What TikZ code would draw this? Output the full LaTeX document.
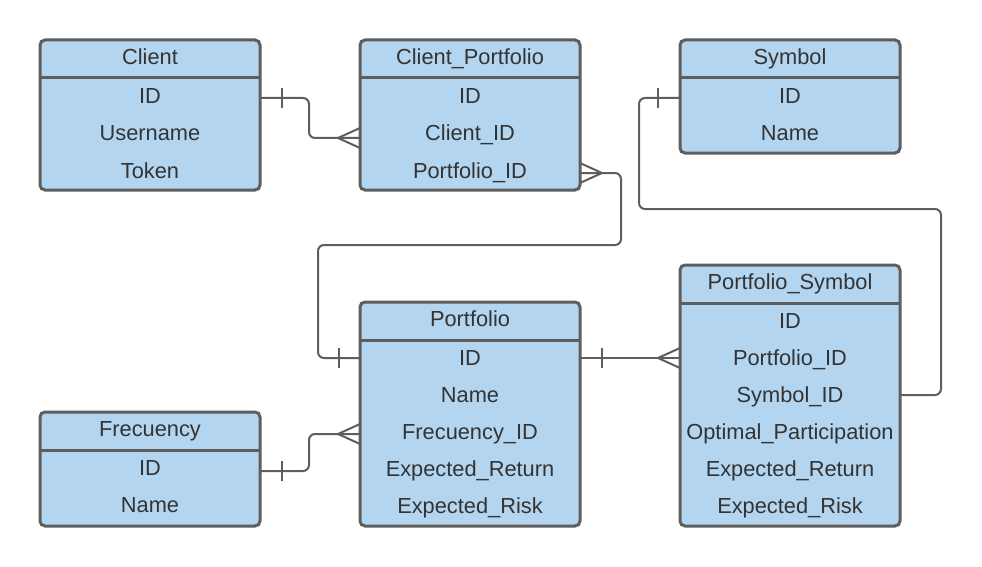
\documentclass[tikz,border=0pt]{standalone}
\usepackage{fontspec}
\setmainfont{Liberation Sans}
\usetikzlibrary{calc}
\definecolor{boxblue}{HTML}{B3D5F0}
\definecolor{edgegray}{HTML}{5E5E5E}
\definecolor{txtgray}{HTML}{333333}
\begin{document}
\begin{tikzpicture}[x=1pt,y=-1pt,
  tbl/.style={draw=edgegray, line width=3pt, fill=boxblue, rounded corners=5pt,
    minimum width=220pt, inner sep=0pt, outer sep=0pt, anchor=north west},
  sepline/.style={draw=edgegray, line width=3pt},
  cell/.style={text=txtgray, font=\fontsize{21.8}{26}\selectfont, inner sep=0pt,
    text height=15pt, text depth=0pt, anchor=center},
  link/.style={draw=edgegray, line width=2pt, rounded corners=6pt},
  crow/.style={draw=edgegray, line width=2pt}]
\fill[white] (0,0) rectangle (982,567);
\useasboundingbox (0,0) rectangle (982,567);

% Client
\node[tbl, minimum height=150pt] (client) at (40,40) {};
\draw[sepline] ([yshift=-38pt]client.north west) -- ([yshift=-38pt]client.north east);
\node[cell] (client-t) at (150,57) {Client};
\node[cell] (client-id) at (150,96.5) {ID};
\node[cell] (client-un) at (150,133.5) {Username};
\node[cell] (client-tk) at (150,170.5) {Token};

% Client_Portfolio
\node[tbl, minimum height=150pt] (cp) at (360,40) {};
\draw[sepline] ([yshift=-38pt]cp.north west) -- ([yshift=-38pt]cp.north east);
\node[cell] (cp-t) at (470,57) {Client\_Portfolio};
\node[cell] (cp-id) at (470,96.5) {ID};
\node[cell] (cp-cid) at (470,133.5) {Client\_ID};
\node[cell] (cp-pid) at (470,170.5) {Portfolio\_ID};

% Symbol
\node[tbl, minimum height=113pt] (sym) at (680,40) {};
\draw[sepline] ([yshift=-38pt]sym.north west) -- ([yshift=-38pt]sym.north east);
\node[cell] (sym-t) at (790,57) {Symbol};
\node[cell] (sym-id) at (790,96.5) {ID};
\node[cell] (sym-nm) at (790,133.5) {Name};

% Portfolio
\node[tbl, minimum height=224pt] (pf) at (360,302) {};
\draw[sepline] ([yshift=-38pt]pf.north west) -- ([yshift=-38pt]pf.north east);
\node[cell] (pf-t) at (470,319) {Portfolio};
\node[cell] (pf-id) at (470,358) {ID};
\node[cell] (pf-nm) at (470,395) {Name};
\node[cell] (pf-fid) at (470,432) {Frecuency\_ID};
\node[cell] (pf-er) at (470,469) {Expected\_Return};
\node[cell] (pf-rk) at (470,506) {Expected\_Risk};

% Portfolio_Symbol
\node[tbl, minimum height=261pt] (ps) at (680,265) {};
\draw[sepline] ([yshift=-38pt]ps.north west) -- ([yshift=-38pt]ps.north east);
\node[cell] (ps-t) at (790,282) {Portfolio\_Symbol};
\node[cell] (ps-id) at (790,321) {ID};
\node[cell] (ps-pid) at (790,358) {Portfolio\_ID};
\node[cell] (ps-sid) at (790,395) {Symbol\_ID};
\node[cell] (ps-op) at (790,432) {Optimal\_Participation};
\node[cell] (ps-er) at (790,469) {Expected\_Return};
\node[cell] (ps-rk) at (790,506) {Expected\_Risk};

% Frecuency
\node[tbl, minimum height=114pt] (fq) at (40,412) {};
\draw[sepline] ([yshift=-38pt]fq.north west) -- ([yshift=-38pt]fq.north east);
\node[cell] (fq-t) at (150,429) {Frecuency};
\node[cell] (fq-id) at (150,468) {ID};
\node[cell] (fq-nm) at (150,505) {Name};

% attach points
\coordinate (a1) at ($(client.east |- client-id)+(0,1.5)$);
\coordinate (b1) at ($(cp.west |- cp-cid)+(0,4.5)$);
\coordinate (a2) at ($(cp.east |- cp-pid)+(0,2.5)$);
\coordinate (b2) at (pf.west |- pf-id);
\coordinate (a3) at ($(sym.west |- sym-id)+(0,1.5)$);
\coordinate (b3) at (ps.east |- ps-sid);
\coordinate (a4) at (pf.east |- pf-id);
\coordinate (b4) at (ps.west |- ps-pid);
\coordinate (a5) at ($(fq.east |- fq-id)+(0,3)$);
\coordinate (b5) at ($(pf.west |- pf-fid)+(0,2)$);

% Client -> Client_Portfolio
\draw[link] (a1) -- ++(49,0) |- (b1);
\draw[crow] ($(a1)+(22,-10)$) -- ($(a1)+(22,10)$);
\draw[crow] ($(b1)+(0,-10)$) -- ($(b1)+(-22,0)$) -- ($(b1)+(0,10)$);

% Client_Portfolio -> Portfolio
\draw[link] (a2) -- ++(41,0) |- (318,245) |- (b2);
\draw[crow] ($(a2)+(0,-10)$) -- ($(a2)+(22,0)$) -- ($(a2)+(0,10)$);
\draw[crow] ($(b2)+(-21,-10)$) -- ($(b2)+(-21,10)$);

% Symbol -> Portfolio_Symbol
\draw[link] (a3) -- ++(-41,0) |- (941,209) |- (b3);
\draw[crow] ($(a3)+(-22,-10)$) -- ($(a3)+(-22,10)$);

% Portfolio -> Portfolio_Symbol
\draw[link] (a4) -- (b4);
\draw[crow] ($(a4)+(22,-10)$) -- ($(a4)+(22,10)$);
\draw[crow] ($(b4)+(0,-10)$) -- ($(b4)+(-22,0)$) -- ($(b4)+(0,10)$);

% Frecuency -> Portfolio
\draw[link] (a5) -- ++(49,0) |- (b5);
\draw[crow] ($(a5)+(22,-10)$) -- ($(a5)+(22,10)$);
\draw[crow] ($(b5)+(0,-10)$) -- ($(b5)+(-22,0)$) -- ($(b5)+(0,10)$);
\end{tikzpicture}
\end{document}
